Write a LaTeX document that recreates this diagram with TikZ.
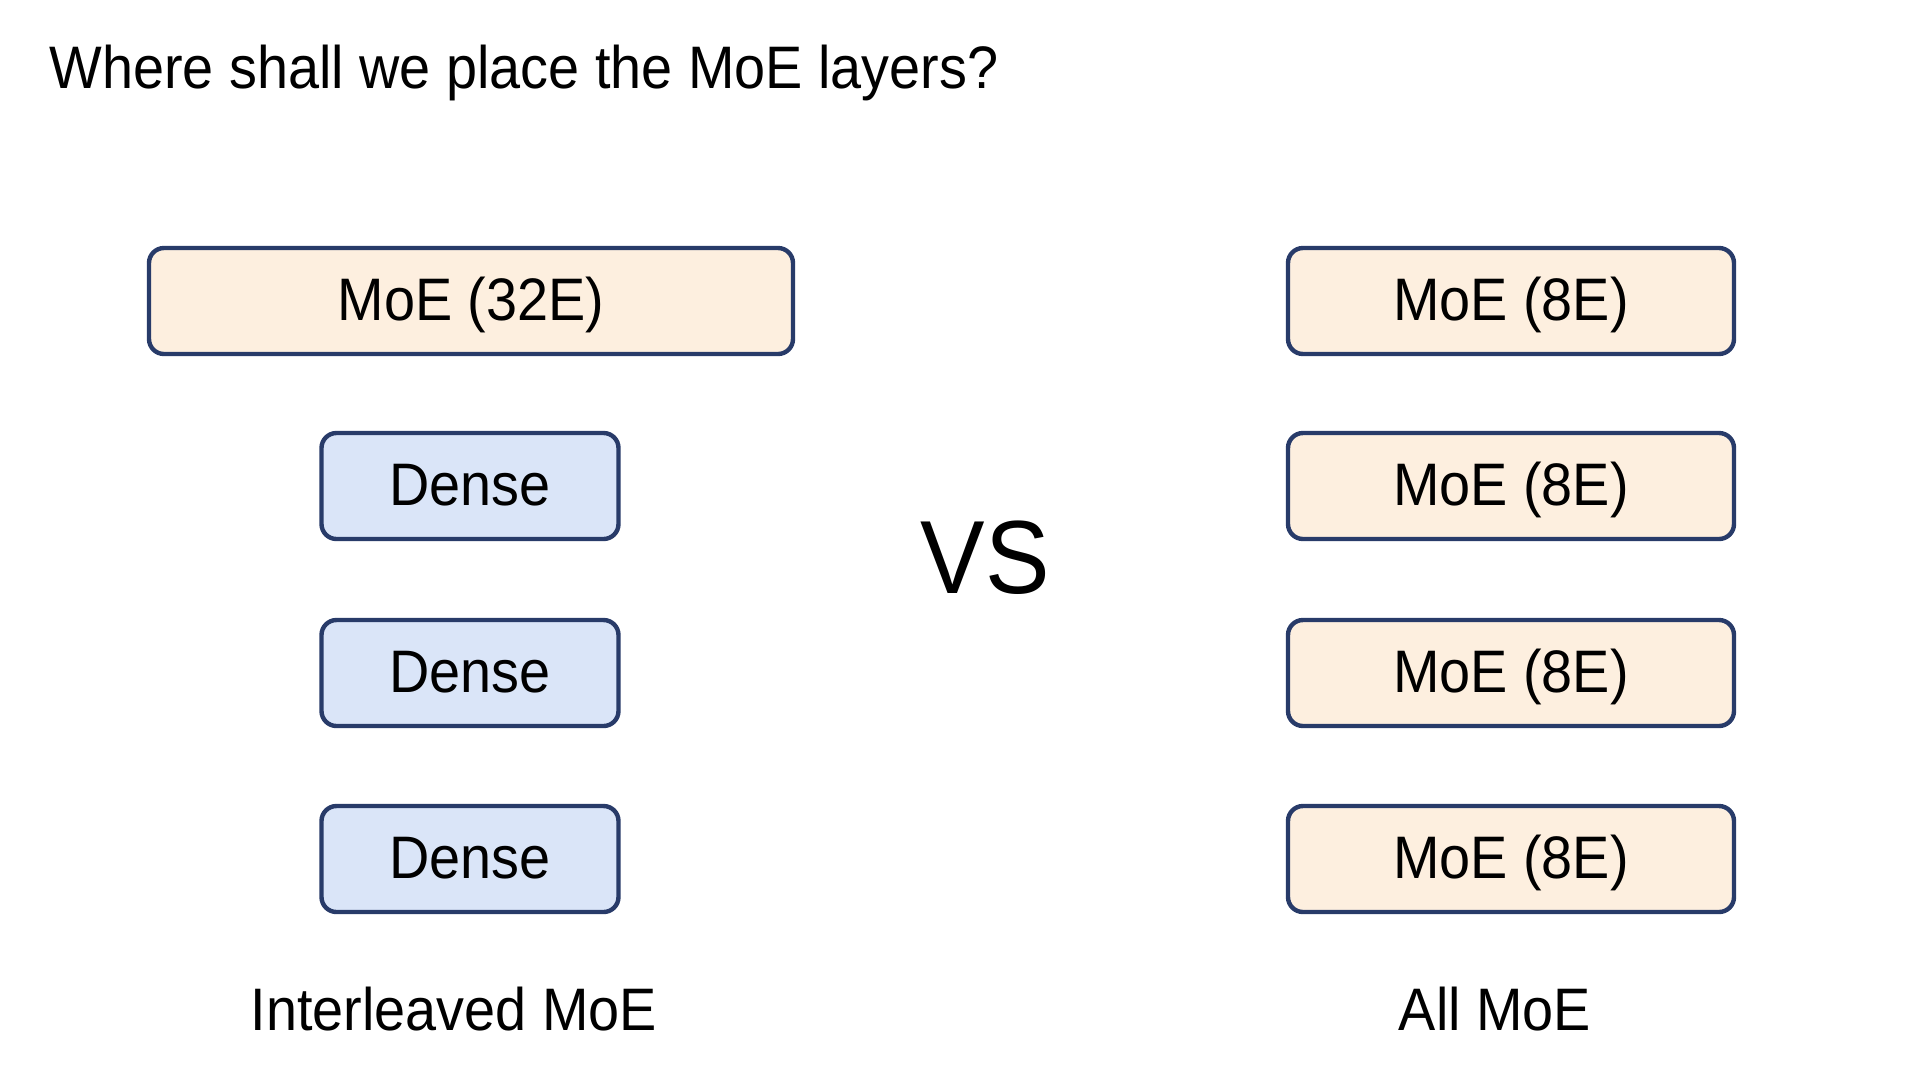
\documentclass[tikz,border=0pt]{standalone}
\usepackage{fontspec}
\setmainfont[FakeStretch=0.93]{Liberation Sans}
\definecolor{moefill}{HTML}{FDEFDF}
\definecolor{densefill}{HTML}{DAE5F8}
\definecolor{boxborder}{HTML}{283B69}
\tikzset{
  layerbox/.style={draw=boxborder, line width=2.2pt, rounded corners=7.5pt, minimum height=53pt, inner sep=0pt, text height=21.5pt, text depth=2.4pt, font=\fontsize{30}{36}\selectfont, text=black},
  moebox/.style={layerbox, fill=moefill},
  densebox/.style={layerbox, fill=densefill, minimum width=148.5pt},
  labeltext/.style={font=\fontsize{30}{36}\selectfont, inner sep=0pt}
}
\begin{document}
\begin{tikzpicture}[x=0.5pt,y=-0.5pt]
\useasboundingbox[fill=white] (0,0) rectangle (1912,1078);
\node[labeltext, anchor=base west] (title) at (49,88) {Where shall we place the MoE layers?};
\node[moebox, minimum width=322pt] (moe32) at (471,301) {MoE (32E)};
\node[densebox] (d1) at (470,486) {Dense};
\node[densebox] (d2) at (470,673) {Dense};
\node[densebox] (d3) at (470,859) {Dense};
\node[moebox, minimum width=223pt] (m1) at (1511,301) {MoE (8E)};
\node[moebox, minimum width=223pt] (m2) at (1511,486) {MoE (8E)};
\node[moebox, minimum width=223pt] (m3) at (1511,673) {MoE (8E)};
\node[moebox, minimum width=223pt] (m4) at (1511,859) {MoE (8E)};
\node[font=\fontsize{52}{60}\selectfont, inner sep=0pt] (vs) at (985,558) {VS};
\node[labeltext, anchor=base] (il) at (454,1030) {Interleaved MoE};
\node[labeltext, anchor=base] (al) at (1495,1030) {All MoE};
\end{tikzpicture}
\end{document}
